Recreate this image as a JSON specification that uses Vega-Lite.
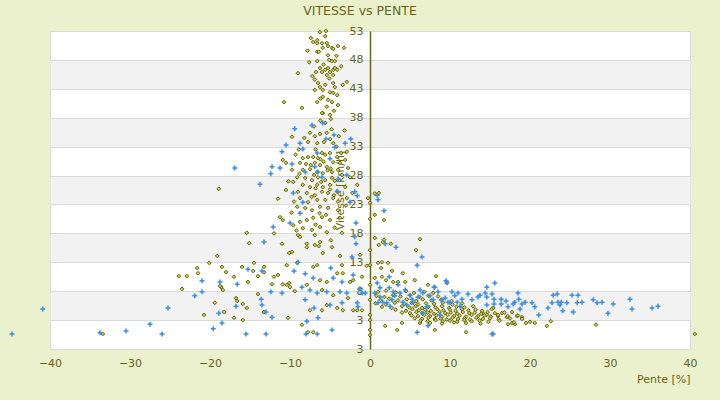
{
"$schema": "https://vega.github.io/schema/vega-lite/v6.json",
"width": 640, "height": 318,
"autosize": "none",
"padding": {"left": 50, "top": 31, "right": 30, "bottom": 51},
"background": "#ebf0cd",
"title": {"text": "VITESSE vs PENTE", "font": "DejaVu Sans", "fontSize": 12.5, "fontWeight": "normal", "color": "#66661a", "offset": 8, "dx": -10},
"config": {"view": {"stroke": "#d9d9d9", "fill": "white"}, "axis": {"labelFont": "DejaVu Sans", "titleFont": "DejaVu Sans"}},
"datasets": {
"olive": [
{"x":-6.25,"y":52.8},{"x":-5.5,"y":53.0},{"x":-7.4,"y":51.8},{"x":-7.1,"y":51.1},{"x":-6.6,"y":51.4},{"x":-6.6,"y":50.9},{"x":-6.0,"y":50.9},{"x":-5.9,"y":50.1},{"x":-5.4,"y":50.9},{"x":-5.25,"y":50.4},{"x":-4.75,"y":50.1},{"x":-4.6,"y":49.9},{"x":-4.0,"y":50.4},{"x":-3.25,"y":50.1},{"x":-6.6,"y":49.4},{"x":-6.4,"y":49.4},{"x":-5.25,"y":48.8},{"x":-7.6,"y":47.6},{"x":-6.6,"y":47.8},{"x":-5.1,"y":48.0},{"x":-4.75,"y":47.8},{"x":-4.4,"y":47.8},{"x":-9.0,"y":45.7},{"x":-6.75,"y":45.9},{"x":-6.25,"y":46.6},{"x":-6.0,"y":45.9},{"x":-5.6,"y":46.3},{"x":-5.25,"y":46.6},{"x":-5.0,"y":45.9},{"x":-4.6,"y":46.3},{"x":-4.4,"y":46.6},{"x":-4.1,"y":46.3},{"x":-5.4,"y":45.4},{"x":-4.6,"y":45.4},{"x":-6.5,"y":44.0},{"x":-6.25,"y":43.3},{"x":-5.6,"y":43.7},{"x":-4.6,"y":44.0},{"x":-4.4,"y":43.3},{"x":-3.4,"y":43.7},{"x":-2.9,"y":44.2},{"x":-6.9,"y":42.8},{"x":-5.9,"y":42.8},{"x":-5.0,"y":42.4},{"x":-4.6,"y":42.3},{"x":-4.1,"y":41.9},{"x":-5.9,"y":41.6},{"x":-5.25,"y":41.1},{"x":-10.75,"y":40.7},{"x":-8.5,"y":39.7},{"x":-6.6,"y":40.7},{"x":-4.75,"y":40.7},{"x":-4.0,"y":40.2},{"x":-5.4,"y":39.9},{"x":-5.9,"y":38.8},{"x":-5.0,"y":38.5},{"x":-4.9,"y":37.8},{"x":-5.8,"y":47.2},{"x":-6.9,"y":44.6},{"x":-4.2,"y":48.7},{"x":-5.1,"y":44.8},{"x":-7.8,"y":49.6},{"x":-3.6,"y":46.9},{"x":-5.6,"y":52.1},{"x":-6.2,"y":41.3},{"x":-4.5,"y":39.2},{"x":-7.2,"y":45.2},
{"x":-6.0,"y":38.8},{"x":-5.6,"y":37.1},{"x":-9.75,"y":34.7},{"x":-7.5,"y":35.4},{"x":-6.9,"y":34.8},{"x":-6.25,"y":35.2},{"x":-5.4,"y":35.4},{"x":-7.75,"y":33.8},{"x":-6.6,"y":33.6},{"x":-5.75,"y":33.8},{"x":-5.0,"y":34.3},{"x":-4.6,"y":33.6},{"x":-2.9,"y":32.1},{"x":-10.9,"y":30.7},{"x":-10.5,"y":30.2},{"x":-9.75,"y":29.0},{"x":-8.75,"y":30.2},{"x":-8.4,"y":31.0},{"x":-7.75,"y":31.2},{"x":-7.1,"y":31.2},{"x":-6.5,"y":31.0},{"x":-6.0,"y":31.9},{"x":-5.6,"y":31.6},{"x":-5.0,"y":31.9},{"x":-4.1,"y":31.2},{"x":-3.6,"y":31.9},{"x":-6.9,"y":30.2},{"x":-6.25,"y":29.8},{"x":-5.4,"y":29.5},{"x":-4.6,"y":30.3},{"x":-3.75,"y":30.2},{"x":-3.1,"y":30.7},{"x":-8.4,"y":29.0},{"x":-7.5,"y":29.1},{"x":-6.6,"y":28.6},{"x":-5.9,"y":28.4},{"x":-4.75,"y":28.6},{"x":-4.0,"y":29.0},{"x":-2.75,"y":29.3},{"x":-9.1,"y":27.7},{"x":-8.1,"y":27.6},{"x":-7.25,"y":27.2},{"x":-6.5,"y":27.7},{"x":-5.6,"y":27.2},{"x":-4.75,"y":27.6},{"x":-3.5,"y":28.1},{"x":-2.5,"y":27.7},{"x":-9.6,"y":26.9},{"x":-8.4,"y":26.4},{"x":-7.5,"y":26.0},{"x":-6.6,"y":26.4},{"x":-5.9,"y":26.0},{"x":-5.0,"y":26.4},{"x":-3.1,"y":26.0},{"x":-1.6,"y":26.4},{"x":-9.0,"y":25.2},{"x":-7.9,"y":25.0},{"x":-6.9,"y":24.6},{"x":-6.0,"y":25.2},{"x":-5.25,"y":25.0},{"x":-4.1,"y":25.2},{"x":-8.75,"y":24.1},{"x":-7.75,"y":23.4},{"x":-6.6,"y":23.8},{"x":-5.6,"y":23.8},{"x":-4.6,"y":24.1},{"x":-2.9,"y":24.1},{"x":-9.1,"y":22.6},{"x":-8.1,"y":22.4},{"x":-7.25,"y":22.0},{"x":-6.25,"y":22.6},{"x":-5.25,"y":22.4},{"x":-4.0,"y":22.0},{"x":-11.25,"y":20.8},{"x":-10.9,"y":20.3},{"x":-9.6,"y":19.4},{"x":-8.75,"y":20.0},{"x":-7.9,"y":20.3},{"x":-7.1,"y":20.7},{"x":-6.0,"y":20.8},{"x":-5.0,"y":20.3},{"x":-3.75,"y":20.7},{"x":0.6,"y":21.2},{"x":-8.4,"y":18.9},{"x":-7.25,"y":18.6},{"x":-6.25,"y":19.1},{"x":-5.4,"y":18.2},{"x":-8.75,"y":17.4},{"x":-6.9,"y":17.7},{"x":-3.5,"y":18.1},{"x":-0.25,"y":24.1},
{"x":-6.2,"y":30.8},{"x":-5.3,"y":28.9},{"x":-7.0,"y":28.1},{"x":-4.4,"y":27.1},{"x":-6.1,"y":26.9},{"x":-5.0,"y":25.6},{"x":-7.3,"y":24.3},{"x":-4.0,"y":23.5},{"x":-6.3,"y":21.5},{"x":-5.5,"y":21.2},{"x":-8.0,"y":30.0},{"x":-4.2,"y":33.0},{"x":-6.8,"y":32.5},{"x":-3.0,"y":22.8},{"x":-2.2,"y":25.0},{"x":-9.5,"y":23.5},{"x":-10.2,"y":27.0},{"x":-8.9,"y":32.5},{"x":-11.5,"y":24.0},{"x":-7.9,"y":16.2},{"x":-6.4,"y":15.8},{"x":-4.9,"y":16.8},{"x":-9.2,"y":18.5},{"x":-12.0,"y":18.0},{"x":-18.9,"y":25.7},
{"x":-7.0,"y":36.5},{"x":-6.2,"y":37.5},{"x":-4.8,"y":36.0},{"x":-8.2,"y":34.5},{"x":-3.9,"y":34.8},{"x":-9.3,"y":31.6},{"x":-5.8,"y":30.4},{"x":-7.4,"y":29.8},{"x":-4.9,"y":29.2},{"x":-8.8,"y":28.3},{"x":-6.8,"y":25.8},{"x":-4.5,"y":24.6},{"x":-9.8,"y":21.6},{"x":-6.8,"y":19.5},{"x":-4.4,"y":19.0},{"x":-10.5,"y":25.5},{"x":-3.2,"y":35.8},
{"x":-7.9,"y":15.6},{"x":-6.9,"y":16.0},{"x":-6.25,"y":16.5},{"x":-4.75,"y":15.6},{"x":-5.9,"y":14.6},{"x":-3.75,"y":14.1},{"x":-3.5,"y":12.5},{"x":-6.6,"y":12.5},{"x":-7.1,"y":12.2},{"x":-4.1,"y":11.1},{"x":-3.4,"y":11.1},{"x":-1.25,"y":14.3},{"x":-0.4,"y":12.4},{"x":-6.25,"y":9.9},{"x":-5.4,"y":9.6},{"x":-2.5,"y":9.6},{"x":-2.1,"y":9.9},{"x":-1.0,"y":10.5},{"x":-7.9,"y":9.1},{"x":-6.0,"y":8.2},{"x":-4.6,"y":7.3},{"x":-2.75,"y":6.8},{"x":-5.4,"y":5.6},{"x":-4.1,"y":5.1},{"x":-2.1,"y":4.7},{"x":-1.0,"y":4.7},{"x":-7.5,"y":4.7},{"x":-6.0,"y":4.7},{"x":-8.5,"y":2.2},{"x":-7.75,"y":0.9},{"x":-7.1,"y":0.9},{"x":-3.4,"y":4.7},{"x":-1.6,"y":4.7},
{"x":-15.4,"y":18.1},{"x":-9.0,"y":17.7},{"x":-15.1,"y":16.3},{"x":-11.0,"y":16.2},{"x":-10.1,"y":14.6},{"x":-9.75,"y":14.8},{"x":-19.1,"y":14.1},{"x":-20.1,"y":12.9},{"x":-9.1,"y":12.9},{"x":-21.6,"y":12.0},{"x":-18.5,"y":12.2},{"x":-16.0,"y":12.2},{"x":-14.5,"y":12.9},{"x":-13.25,"y":12.2},{"x":-10.4,"y":12.5},{"x":-21.5,"y":11.1},{"x":-18.0,"y":11.3},{"x":-14.6,"y":11.5},{"x":-13.25,"y":11.3},{"x":-23.9,"y":10.6},{"x":-22.9,"y":10.6},{"x":-17.0,"y":10.5},{"x":-14.0,"y":10.6},{"x":-11.5,"y":10.8},{"x":-12.0,"y":10.5},{"x":-15.25,"y":9.6},{"x":-12.25,"y":9.2},{"x":-10.9,"y":9.2},{"x":-10.4,"y":9.1},{"x":-10.1,"y":9.4},{"x":-10.0,"y":8.7},{"x":-18.6,"y":8.7},{"x":-23.5,"y":8.4},{"x":-18.4,"y":8.2},{"x":-9.4,"y":8.0},{"x":-14.0,"y":7.5},{"x":-19.4,"y":6.0},{"x":-16.75,"y":6.8},{"x":-16.6,"y":6.3},{"x":-15.9,"y":5.8},{"x":-15.4,"y":5.1},{"x":-18.25,"y":4.4},{"x":-13.25,"y":4.4},{"x":-20.75,"y":3.9},{"x":-17.0,"y":3.4},{"x":-15.9,"y":3.0},{"x":-10.25,"y":3.4},{"x":-18.75,"y":8.9},{"x":-33.4,"y":0.6},{"x":40.6,"y":0.6},
{"x":0.6,"y":24.9},{"x":1.1,"y":25.0},{"x":1.75,"y":20.3},{"x":0.6,"y":17.2},{"x":1.6,"y":16.5},{"x":1.75,"y":16.9},{"x":2.6,"y":16.2},{"x":1.1,"y":16.0},{"x":6.25,"y":17.0},{"x":5.75,"y":15.1},{"x":1.0,"y":12.9},{"x":1.5,"y":13.0},{"x":1.4,"y":12.0},{"x":2.25,"y":12.9},{"x":2.75,"y":11.5},{"x":4.1,"y":11.1},{"x":8.25,"y":10.6},{"x":0.6,"y":10.3},{"x":1.5,"y":10.5},{"x":2.0,"y":9.9},{"x":2.9,"y":9.6},{"x":3.5,"y":9.6},{"x":4.4,"y":9.6},{"x":5.6,"y":9.9},{"x":7.25,"y":9.1},{"x":9.6,"y":9.4},{"x":7.9,"y":7.7},{"x":14.1,"y":4.2},{"x":14.6,"y":3.9},{"x":15.4,"y":5.1},{"x":16.0,"y":3.7},{"x":16.5,"y":4.2},{"x":17.1,"y":3.5},{"x":17.25,"y":2.3},{"x":17.75,"y":2.5},{"x":18.1,"y":2.3},{"x":17.75,"y":4.4},{"x":18.4,"y":3.7},{"x":19.0,"y":3.5},{"x":20.0,"y":2.7},{"x":20.6,"y":2.5},{"x":22.1,"y":2.0},{"x":22.6,"y":2.8},{"x":28.25,"y":2.2},{"x":1.9,"y":2.0},{"x":3.4,"y":1.3},{"x":4.0,"y":2.5},{"x":6.25,"y":2.5},{"x":8.1,"y":1.3},{"x":12.0,"y":0.9},
{"x":0,"y":15.1},{"x":0,"y":12.5},{"x":0,"y":9.1},{"x":0,"y":6.5},{"x":0,"y":3.9},{"x":0,"y":3.0},{"x":0,"y":1.3},{"x":0,"y":0.4},{"x":0,"y":23.3},{"x":0,"y":20.5},
{"x":1.0,"y":7.9},{"x":2.0,"y":8.1},{"x":3.2,"y":7.8},{"x":4.5,"y":8.0},{"x":5.5,"y":7.7},{"x":6.8,"y":7.9},
{"x":0.8,"y":7.2},{"x":1.8,"y":7.0},{"x":2.9,"y":7.3},{"x":3.8,"y":7.1},{"x":5.0,"y":7.3},{"x":6.2,"y":7.0},{"x":7.3,"y":7.2},{"x":8.5,"y":7.1},
{"x":1.3,"y":6.5},{"x":2.4,"y":6.7},{"x":3.5,"y":6.4},{"x":4.6,"y":6.6},{"x":5.8,"y":6.3},{"x":6.6,"y":6.6},{"x":7.7,"y":6.4},{"x":8.9,"y":6.5},{"x":10.2,"y":6.3},
{"x":0.7,"y":5.9},{"x":2.0,"y":5.7},{"x":3.1,"y":6.0},{"x":4.3,"y":5.8},{"x":5.2,"y":6.0},{"x":6.0,"y":5.7},{"x":7.0,"y":5.9},{"x":8.0,"y":5.8},{"x":9.1,"y":6.0},{"x":10.3,"y":5.7},{"x":11.5,"y":5.9},
{"x":1.5,"y":5.3},{"x":2.7,"y":5.1},{"x":4.0,"y":5.4},{"x":4.9,"y":5.2},{"x":5.7,"y":5.4},{"x":6.5,"y":5.1},{"x":7.3,"y":5.3},{"x":8.2,"y":5.2},{"x":9.0,"y":5.4},{"x":9.9,"y":5.1},{"x":10.8,"y":5.3},{"x":11.8,"y":5.2},{"x":12.9,"y":5.4},
{"x":3.2,"y":4.8},{"x":4.5,"y":4.6},{"x":5.3,"y":4.9},{"x":6.1,"y":4.7},{"x":6.9,"y":4.8},{"x":7.6,"y":4.6},{"x":8.4,"y":4.9},{"x":9.2,"y":4.7},{"x":10.0,"y":4.8},{"x":10.7,"y":4.6},{"x":11.5,"y":4.9},{"x":12.3,"y":4.7},{"x":13.2,"y":4.8},{"x":14.0,"y":4.6},{"x":15.2,"y":4.9},
{"x":4.0,"y":4.3},{"x":5.0,"y":4.2},{"x":5.8,"y":4.4},{"x":6.5,"y":4.2},{"x":7.2,"y":4.3},{"x":8.0,"y":4.1},{"x":8.7,"y":4.4},{"x":9.4,"y":4.2},{"x":10.1,"y":4.3},{"x":10.9,"y":4.1},{"x":11.6,"y":4.4},{"x":12.4,"y":4.2},{"x":13.1,"y":4.3},{"x":13.9,"y":4.1},{"x":14.7,"y":4.4},{"x":15.6,"y":4.2},{"x":16.8,"y":4.3},
{"x":5.2,"y":3.8},{"x":6.0,"y":3.7},{"x":6.8,"y":3.9},{"x":7.5,"y":3.7},{"x":8.3,"y":3.8},{"x":9.0,"y":3.6},{"x":9.7,"y":3.9},{"x":10.5,"y":3.7},{"x":11.2,"y":3.8},{"x":12.0,"y":3.6},{"x":12.7,"y":3.9},{"x":13.5,"y":3.7},{"x":14.3,"y":3.8},{"x":15.1,"y":3.6},{"x":16.0,"y":3.9},{"x":17.2,"y":3.7},{"x":18.5,"y":3.8},
{"x":5.6,"y":3.3},{"x":6.5,"y":3.2},{"x":7.3,"y":3.4},{"x":8.1,"y":3.2},{"x":8.8,"y":3.3},{"x":9.6,"y":3.1},{"x":10.3,"y":3.4},{"x":11.0,"y":3.2},{"x":11.8,"y":3.3},{"x":12.5,"y":3.1},{"x":13.3,"y":3.4},{"x":14.1,"y":3.2},{"x":15.0,"y":3.3},{"x":16.1,"y":3.1},{"x":17.5,"y":3.3},{"x":19.0,"y":3.2},
{"x":6.3,"y":2.9},{"x":7.2,"y":2.8},{"x":8.2,"y":3.0},{"x":9.1,"y":2.8},{"x":10.0,"y":2.9},{"x":10.9,"y":2.7},{"x":11.8,"y":3.0},{"x":12.7,"y":2.8},{"x":13.7,"y":2.9},{"x":14.8,"y":2.7},{"x":16.2,"y":2.9},
{"x":7.5,"y":2.5},{"x":9.0,"y":2.4},{"x":10.5,"y":2.6},{"x":12.0,"y":2.5},{"x":13.8,"y":2.4},{"x":18.0,"y":2.6},{"x":19.5,"y":2.5}
],
"bleu": [
{"x":-44.75,"y":0.6},{"x":-40.9,"y":4.9},{"x":-33.75,"y":0.8},{"x":-30.5,"y":1.1},{"x":-27.5,"y":2.3},{"x":-26.0,"y":0.6},{"x":-25.25,"y":5.1},{"x":-21.9,"y":7.2},{"x":-21.0,"y":9.8},{"x":-21.0,"y":7.9},{"x":-19.6,"y":1.5},{"x":-18.9,"y":4.2},{"x":-18.75,"y":9.6},{"x":-18.5,"y":2.5},{"x":-16.75,"y":5.4},{"x":-16.6,"y":9.2},{"x":-13.25,"y":16.5},{"x":-15.25,"y":11.8},{"x":-13.5,"y":11.5},{"x":-9.5,"y":11.5},{"x":-9.0,"y":13.0},{"x":-12.4,"y":7.9},{"x":-11.0,"y":7.7},{"x":-13.6,"y":6.6},{"x":-13.5,"y":5.6},{"x":-13.0,"y":4.4},{"x":-12.25,"y":3.5},{"x":-15.5,"y":0.6},{"x":-13.0,"y":0.6},{"x":-16.9,"y":29.3},{"x":-13.75,"y":26.5},
{"x":-5.9,"y":37.1},{"x":-7.25,"y":36.7},{"x":-9.4,"y":36.1},{"x":-5.5,"y":34.3},{"x":-8.75,"y":33.6},{"x":-10.5,"y":33.3},{"x":-4.5,"y":35.0},{"x":-3.1,"y":33.6},{"x":-2.4,"y":34.3},{"x":-4.4,"y":32.9},{"x":-11.0,"y":32.1},{"x":-8.4,"y":32.6},{"x":-6.6,"y":31.9},{"x":-5.0,"y":30.9},{"x":-6.9,"y":29.5},{"x":-6.5,"y":28.6},{"x":-9.75,"y":30.0},{"x":-12.25,"y":29.5},{"x":-11.25,"y":29.3},{"x":-12.4,"y":28.3},{"x":-8.1,"y":28.6},{"x":-6.0,"y":27.7},{"x":-4.0,"y":27.4},{"x":-2.9,"y":28.1},{"x":-9.6,"y":25.0},{"x":-8.4,"y":23.4},{"x":-4.1,"y":25.3},{"x":-1.9,"y":25.2},{"x":-1.6,"y":24.5},{"x":-2.5,"y":23.4},{"x":-8.75,"y":21.5},{"x":-12.1,"y":19.1},{"x":-10.0,"y":19.8},{"x":-1.75,"y":19.8},{"x":-1.9,"y":17.4},{"x":0.9,"y":24.6},{"x":1.0,"y":23.8},
{"x":-2.25,"y":13.9},{"x":-1.75,"y":16.2},{"x":-4.9,"y":12.0},{"x":-2.1,"y":10.8},{"x":-8.1,"y":11.0},{"x":-7.1,"y":10.3},{"x":-4.6,"y":10.3},{"x":-3.5,"y":9.6},{"x":-8.5,"y":8.7},{"x":-7.5,"y":8.2},{"x":-6.6,"y":7.7},{"x":-5.4,"y":7.9},{"x":-3.75,"y":7.9},{"x":-2.9,"y":7.7},{"x":-1.25,"y":8.4},{"x":-0.6,"y":7.7},{"x":-8.1,"y":6.5},{"x":-7.0,"y":5.1},{"x":-5.0,"y":5.6},{"x":-3.5,"y":6.0},{"x":-1.5,"y":5.3},{"x":-7.9,"y":2.8},{"x":-6.5,"y":3.4},{"x":-4.75,"y":1.3},{"x":-8.0,"y":0.6},{"x":-6.6,"y":0.6},{"x":-1.6,"y":6.0},
{"x":1.75,"y":21.9},{"x":1.9,"y":16.2},{"x":3.25,"y":15.6},{"x":6.5,"y":13.9},{"x":5.9,"y":12.5},{"x":2.4,"y":10.5},{"x":9.5,"y":9.8},{"x":8.0,"y":8.7},{"x":10.25,"y":7.9},{"x":11.0,"y":7.7},{"x":15.6,"y":9.4},{"x":14.6,"y":8.7},{"x":0.9,"y":9.4},{"x":1.25,"y":8.6},{"x":5.9,"y":0.9},{"x":7.25,"y":2.0},{"x":15.4,"y":0.6},{"x":2.4,"y":8.6},{"x":2.9,"y":7.9},{"x":3.75,"y":7.7},{"x":5.0,"y":7.3},{"x":6.0,"y":7.0},{"x":6.6,"y":7.7},{"x":1.6,"y":6.1},{"x":2.1,"y":6.0},{"x":1.0,"y":6.0},{"x":1.25,"y":7.0},{"x":0.6,"y":7.7},{"x":-1.0,"y":7.7},{"x":4.1,"y":6.1},{"x":5.4,"y":6.0},{"x":7.1,"y":5.3},{"x":9.4,"y":6.8},{"x":9.75,"y":6.1},{"x":10.0,"y":6.0},{"x":10.9,"y":6.1},{"x":8.75,"y":3.9},{"x":6.6,"y":4.2},{"x":8.1,"y":8.7},{"x":9.6,"y":9.6},
{"x":3.1,"y":7.2},{"x":4.4,"y":8.2},{"x":5.25,"y":6.6},{"x":7.5,"y":7.2},{"x":8.5,"y":7.9},{"x":9.0,"y":6.5},{"x":10.6,"y":7.2},{"x":11.5,"y":6.6},{"x":12.25,"y":7.5},{"x":12.75,"y":6.5},{"x":3.5,"y":9.1},{"x":6.25,"y":8.2},{"x":2.75,"y":6.5},{"x":4.6,"y":5.6},{"x":7.9,"y":6.5},{"x":11.25,"y":5.4},{"x":13.5,"y":7.0},{"x":2.5,"y":5.4},
{"x":13.75,"y":7.3},{"x":14.4,"y":7.7},{"x":15.25,"y":7.5},{"x":14.6,"y":7.0},{"x":15.5,"y":6.6},{"x":16.4,"y":6.6},{"x":16.4,"y":5.8},{"x":15.5,"y":5.8},{"x":14.6,"y":5.6},{"x":17.0,"y":6.3},{"x":17.25,"y":5.3},{"x":17.9,"y":5.8},{"x":18.1,"y":6.1},{"x":18.5,"y":7.7},{"x":18.6,"y":6.6},{"x":19.0,"y":5.8},{"x":19.4,"y":6.1},{"x":18.75,"y":4.9},{"x":20.25,"y":6.0},{"x":20.6,"y":5.3},{"x":21.1,"y":3.9},{"x":22.25,"y":5.1},{"x":22.9,"y":7.3},{"x":23.4,"y":7.5},{"x":22.75,"y":6.0},{"x":23.5,"y":6.1},{"x":23.9,"y":6.1},{"x":23.75,"y":5.6},{"x":24.1,"y":4.6},{"x":24.6,"y":6.0},{"x":25.25,"y":7.3},{"x":25.4,"y":4.4},{"x":25.9,"y":6.0},{"x":26.0,"y":7.3},{"x":26.5,"y":6.1},{"x":27.9,"y":6.5},{"x":28.4,"y":6.0},{"x":29.0,"y":6.1},{"x":29.75,"y":4.2},{"x":30.4,"y":5.8},{"x":32.5,"y":6.6},{"x":32.75,"y":4.9},{"x":35.25,"y":5.1},{"x":36.0,"y":5.4},{"x":15.25,"y":0.6}
]
},
"layer": [
{
"data": {"name": "olive"},
"mark": {"type": "point", "shape": "diamond", "filled": true, "size": 14, "fill": "#d2d25a", "stroke": "#5c5c00", "strokeWidth": 1, "opacity": 1},
"encoding": {
"x": {"field": "x", "type": "quantitative", "scale": {"domain": [-40, 40], "nice": false, "zero": false},
"axis": {"values": [-40,-35,-30,-25,-20,-15,-10,-5,0,5,10,15,20,25,30,35,40], "grid": false, "domain": false, "ticks": false, "tickSize": 0, "labelPadding": 8, "labelFlush": false, "labelColor": "#66661a", "labelFontSize": 11, "title": "Pente [%]", "titleAnchor": "end", "titleColor": "#66661a", "titleFontSize": 11, "titleFontWeight": "normal", "titlePadding": 5}},
"y": {"field": "y", "type": "quantitative", "scale": {"domain": [-2, 53], "nice": false, "zero": false},
"axis": {"orient": "left", "values": [5.5, 15.5, 25.5, 35.5, 45.5], "grid": true, "gridColor": "#f2f2f2", "gridWidth": 28.9, "gridOpacity": 1, "labels": false, "ticks": false, "domain": false, "title": null}}
}
},
{
"data": {"name": "bleu"},
"mark": {"type": "point", "shape": "M-1,0L1,0M0,-1L0,1", "filled": false, "size": 25, "stroke": "#3a8ee6", "strokeWidth": 1.5, "opacity": 1},
"encoding": {
"x": {"field": "x", "type": "quantitative"},
"y": {"field": "y", "type": "quantitative",
"axis": {"orient": "left", "offset": -320, "values": [-2,3,8,13,18,23,28,33,38,43,48,53], "labelExpr": "datum.value < 0 ? '3' : datum.label", "grid": true, "gridColor": "#d9d9d9", "gridWidth": 1, "gridOpacity": 1, "ticks": false, "tickSize": 0, "labelPadding": 7, "labelColor": "#66661a", "labelFontSize": 11, "domain": true, "domainColor": "#66661a", "domainWidth": 1.5, "title": "Vitesse [km/h]", "titleColor": "#66661a", "titleFontSize": 11, "titleFontWeight": "normal", "titlePadding": 4}}
}
}
],
"resolve": {"axis": {"y": "independent"}}
}
